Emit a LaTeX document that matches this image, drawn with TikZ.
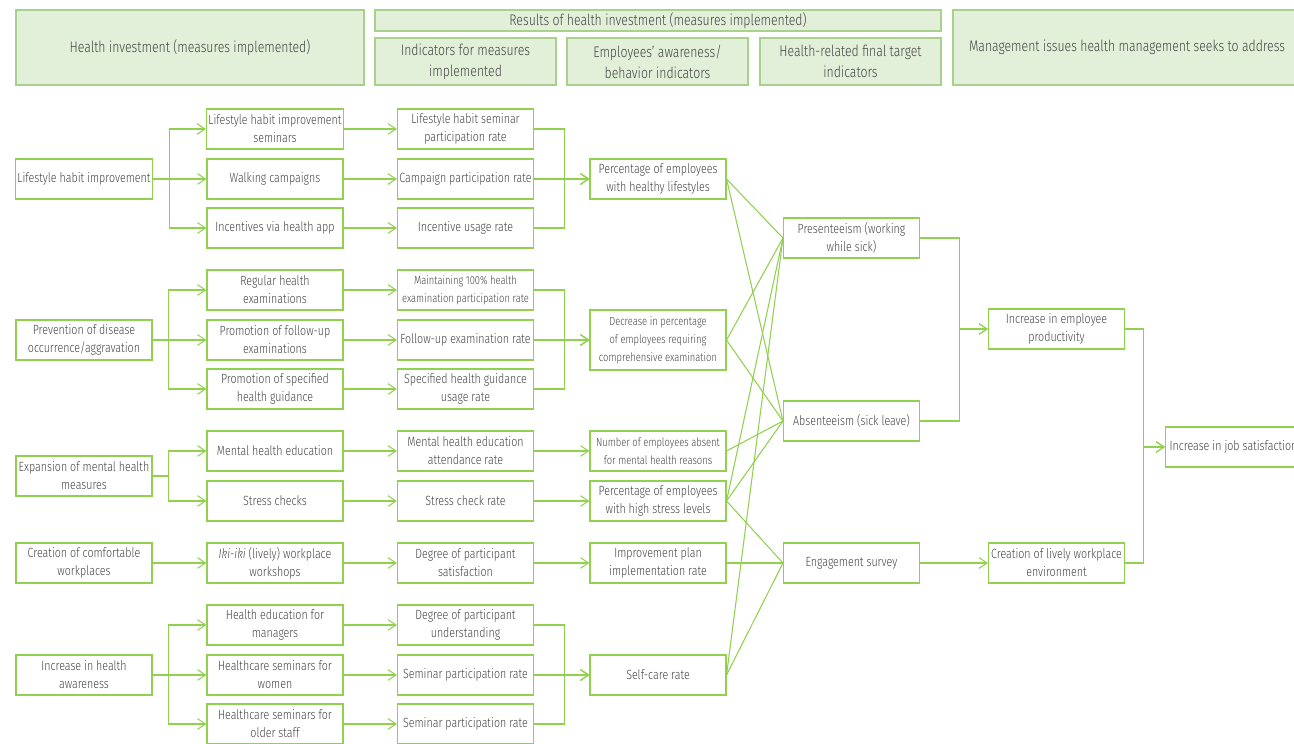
\documentclass[tikz,border=0pt]{standalone}
\usepackage{fontspec}
\setmainfont{Fira Sans}[UprightFont={* Light}, ItalicFont={* Light Italic}, FakeStretch=0.8]
\usetikzlibrary{arrows.meta}
\definecolor{leaf}{RGB}{146,208,80}
\definecolor{leafpale}{RGB}{226,239,217}
\definecolor{leafedge}{RGB}{169,209,142}
\definecolor{inkgray}{RGB}{68,68,68}

\begin{document}
\begin{tikzpicture}[x=0.75pt,y=-0.75pt]

\tikzstyle{box}=[draw=leaf, line width=0.8pt, minimum width=102pt, minimum height=30pt, inner sep=1.5pt, align=center, text=inkgray, font=\fontsize{10}{13.5}\selectfont]
\tikzstyle{tight}=[font=\fontsize{8.8}{13.5}\selectfont]
\tikzstyle{head}=[draw=leafedge, fill=leafpale, line width=0.8pt, inner sep=1pt, align=center, text=inkgray, font=\fontsize{11.5}{15.75}\selectfont]
\tikzstyle{link}=[draw=leaf, line width=0.8pt]
\tikzstyle{arr}=[link, -{Straight Barb[length=6pt,width=8pt]}]

\useasboundingbox (0,0) rectangle (1294,743);

% headings
\node[head, minimum width=261pt, minimum height=56.25pt] (hInvest) at (190,47.5) {Health investment (measures implemented)};
\node[head, minimum width=424.5pt, minimum height=15.75pt] (hResult) at (658,20.5) {Results of health investment (measures implemented)};
\node[head, minimum width=135.75pt, minimum height=35.25pt] (hIndic) at (465.5,61.5) {Indicators for measures\\implemented};
\node[head, minimum width=135.75pt, minimum height=35.25pt] (hAware) at (657.5,61.5) {Employees' awareness/\\behavior indicators};
\node[head, minimum width=135.75pt, minimum height=35.25pt] (hFinal) at (850.5,61.5) {Health-related final target\\indicators};
\node[head, minimum width=261pt, minimum height=56.25pt] (hIssue) at (1127,47.5) {Management issues health management seeks to address};

% measures
\node[box] (lhi) at (84,179) {Lifestyle habit improvement};
\node[box] (prev) at (84,340) {Prevention of disease\\occurrence/aggravation};
\node[box] (ment) at (84,476) {Expansion of mental health\\measures};
\node[box] (comf) at (84,563) {Creation of comfortable\\workplaces};
\node[box] (awar) at (84,675) {Increase in health\\awareness};

\node[box] (sem) at (275,129) {Lifestyle habit improvement\\seminars};
\node[box] (walk) at (275,179) {Walking campaigns};
\node[box] (app) at (275,228) {Incentives via health app};
\node[box] (exam) at (275,290) {Regular health\\examinations};
\node[box] (follow) at (275,340) {Promotion of follow-up\\examinations};
\node[box] (guid) at (275,389) {Promotion of specified\\health guidance};
\node[box] (medu) at (275,451) {Mental health education};
\node[box] (stress) at (275,501) {Stress checks};
\node[box] (iki) at (275,563) {\textit{Iki-iki} (lively) workplace\\workshops};
\node[box] (mgr) at (275,625) {Health education for\\managers};
\node[box] (women) at (275,675) {Healthcare seminars for\\women};
\node[box] (older) at (275,724) {Healthcare seminars for\\older staff};

% indicators for measures
\node[box] (semrate) at (465.5,129) {Lifestyle habit seminar\\participation rate};
\node[box] (camprate) at (465.5,179) {Campaign participation rate};
\node[box] (incrate) at (465.5,228) {Incentive usage rate};
\node[box, tight] (examrate) at (465.5,290) {Maintaining 100\% health\\examination participation rate};
\node[box] (followrate) at (465.5,340) {Follow-up examination rate};
\node[box] (guidrate) at (465.5,389) {Specified health guidance\\usage rate};
\node[box] (medurate) at (465.5,451) {Mental health education\\attendance rate};
\node[box] (stressrate) at (465.5,501) {Stress check rate};
\node[box] (satis) at (465.5,563) {Degree of participant\\satisfaction};
\node[box] (underst) at (465.5,625) {Degree of participant\\understanding};
\node[box] (womenrate) at (465.5,675) {Seminar participation rate};
\node[box] (olderrate) at (465.5,724) {Seminar participation rate};

% awareness / behavior
\node[box] (healthy) at (658,179) {Percentage of employees\\with healthy lifestyles};
\node[box, tight, minimum height=45pt] (decr) at (658,340) {Decrease in percentage\\of employees requiring\\comprehensive examination};
\node[box, tight] (absent) at (658,451) {Number of employees absent\\for mental health reasons};
\node[box] (highstr) at (658,501) {Percentage of employees\\with high stress levels};
\node[box] (plan) at (658,563) {Improvement plan\\implementation rate};
\node[box] (selfcare) at (658,675) {Self-care rate};

% final targets
\node[box] (pres) at (851.5,238) {Presenteeism (working\\while sick)};
\node[box] (absen) at (851.5,421) {Absenteeism (sick leave)};
\node[box] (engage) at (851.5,563) {Engagement survey};

% management issues
\node[box] (prod) at (1056.5,329) {Increase in employee\\productivity};
\node[box] (lively) at (1056.5,563) {Creation of lively workplace\\environment};
\node[box, anchor=west] (job) at (1165,447) {Increase in job satisfaction};

% measures -> measures
\draw[arr] (lhi.east) -- ++(16,0) |- (sem.west);
\draw[arr] (lhi.east) -- (walk.west);
\draw[arr] (lhi.east) -- ++(16,0) |- (app.west);
\draw[arr] (prev.east) -- ++(16,0) |- (exam.west);
\draw[arr] (prev.east) -- (follow.west);
\draw[arr] (prev.east) -- ++(16,0) |- (guid.west);
\draw[arr] (ment.east) -- ++(16,0) |- (medu.west);
\draw[arr] (ment.east) -- ++(16,0) |- (stress.west);
\draw[arr] (comf.east) -- (iki.west);
\draw[arr] (awar.east) -- ++(16,0) |- (mgr.west);
\draw[arr] (awar.east) -- (women.west);
\draw[arr] (awar.east) -- ++(16,0) |- (older.west);

% measures -> indicators
\draw[arr] (sem) -- (semrate);
\draw[arr] (walk) -- (camprate);
\draw[arr] (app) -- (incrate);
\draw[arr] (exam) -- (examrate);
\draw[arr] (follow) -- (followrate);
\draw[arr] (guid) -- (guidrate);
\draw[arr] (medu) -- (medurate);
\draw[arr] (stress) -- (stressrate);
\draw[arr] (iki) -- (satis);
\draw[arr] (mgr) -- (underst);
\draw[arr] (women) -- (womenrate);
\draw[arr] (older) -- (olderrate);

% indicators -> awareness
\draw[arr] (semrate.east) -- ++(30,0) |- (healthy.west);
\draw[arr] (camprate.east) -- (healthy.west);
\draw[arr] (incrate.east) -- ++(30,0) |- (healthy.west);
\draw[arr] (examrate.east) -- ++(30,0) |- (decr.west);
\draw[arr] (followrate.east) -- (decr.west);
\draw[arr] (guidrate.east) -- ++(30,0) |- (decr.west);
\draw[arr] (medurate) -- (absent);
\draw[arr] (stressrate) -- (highstr);
\draw[arr] (satis) -- (plan);
\draw[arr] (underst.east) -- ++(30,0) |- (selfcare.west);
\draw[arr] (womenrate.east) -- (selfcare.west);
\draw[arr] (olderrate.east) -- ++(30,0) |- (selfcare.west);

% awareness -> final targets
\draw[link] (healthy.east) -- (pres.west);
\draw[link] (healthy.east) -- (absen.west);
\draw[link] (decr.east) -- (pres.west);
\draw[link] (decr.east) -- (absen.west);
\draw[link] (absent.east) -- (absen.west);
\draw[link] (highstr.east) -- (pres.west);
\draw[link] (highstr.east) -- (absen.west);
\draw[link] (highstr.east) -- (engage.west);
\draw[link] (plan.east) -- (engage.west);
\draw[link] (selfcare.east) -- (pres.west);
\draw[link] (selfcare.east) -- (engage.west);

% final targets -> issues
\draw[arr] (pres.east) -- ++(39,0) |- (prod.west);
\draw[arr] (absen.east) -- ++(39,0) |- (prod.west);
\draw[arr] (engage) -- (lively);
\draw[arr] (prod.east) -- ++(18,0) |- (job.west);
\draw[arr] (lively.east) -- ++(18,0) |- (job.west);

\end{tikzpicture}
\end{document}
